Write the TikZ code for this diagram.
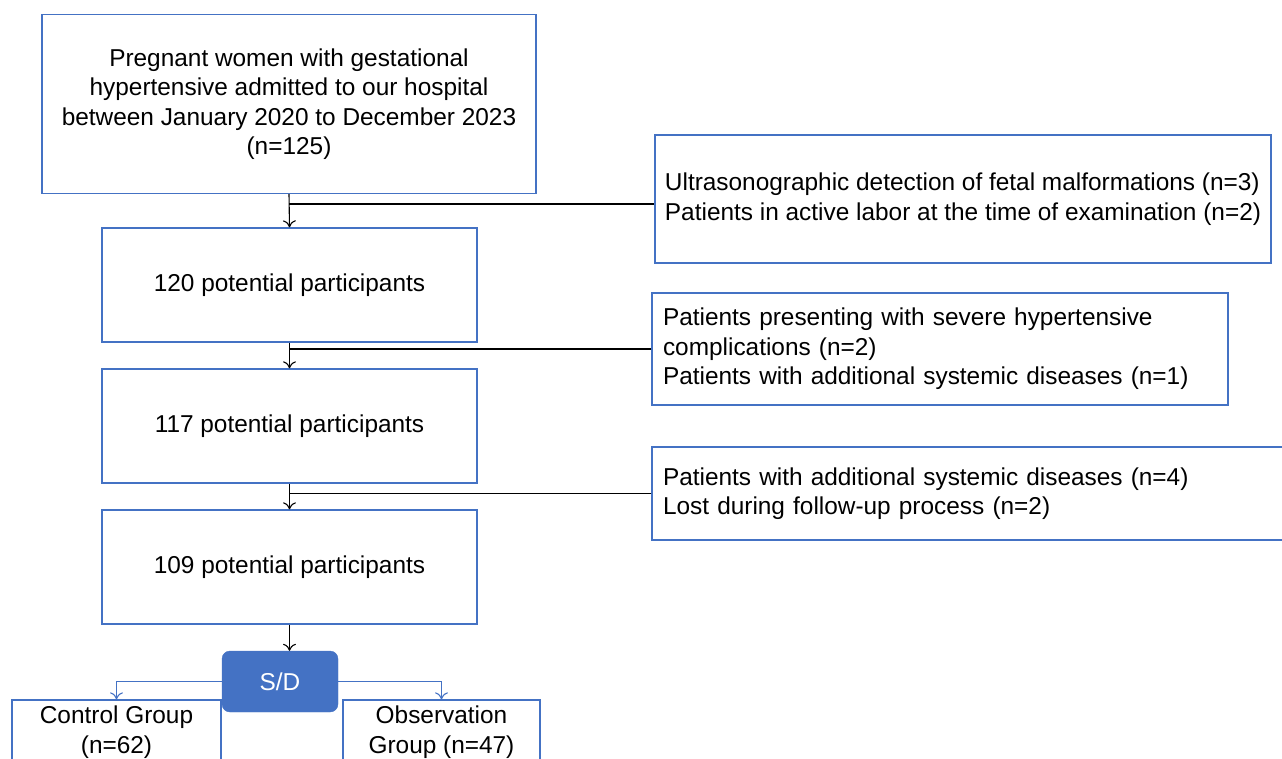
\documentclass[tikz,border=0pt]{standalone}
\usepackage{fontspec}
\setmainfont{Liberation Sans}
\usetikzlibrary{arrows.meta}
\definecolor{boxblue}{HTML}{4472C4}
\tikzset{
  txt/.style={font=\fontsize{24.4}{29.5}\selectfont},
  flowbox/.style={txt, draw=boxblue, line width=1.3pt, minimum width=375pt, minimum height=114pt, align=center},
  exclbox/.style={txt, draw=boxblue, line width=1.3pt, align=left, inner xsep=11pt},
  groupbox/.style={txt, draw=boxblue, line width=1.3pt, minimum height=64pt, align=center, inner sep=2pt},
  arr/.style={-{To[length=7pt,width=13pt]}, line width=1.1pt},
  bluearr/.style={-{To[length=7pt,width=13pt]}, draw=boxblue, line width=1.1pt},
}
\begin{document}
\begin{tikzpicture}[x=1pt,y=-1pt]
\useasboundingbox (0,0) rectangle (1282,759);
\clip (0,0) rectangle (1282,759);
% main column
\node[flowbox, minimum width=494pt, minimum height=179pt] (top) at (289,104)
  {Pregnant women with gestational\\hypertensive admitted to our hospital\\between January 2020 to December 2023\\(n=125)};
\node[flowbox] (p120) at (289.5,285) {120 potential participants};
\node[flowbox] (p117) at (289.5,426) {117 potential participants};
\node[flowbox] (p109) at (289.5,567) {109 potential participants};
% exclusions
\node[exclbox, inner xsep=2pt, minimum width=616pt, minimum height=128pt] (ex1) at (963,199)
  {Ultrasonographic detection of fetal malformations (n=3)\\Patients in active labor at the time of examination (n=2)};
\node[exclbox, text width=554pt, minimum height=112pt] (ex2) at (940,349)
  {Patients presenting with severe hypertensive\\complications (n=2)\\Patients with additional systemic diseases (n=1)};
\node[exclbox, text width=626pt, minimum height=93pt] (ex3) at (976,493.5)
  {Patients with additional systemic diseases (n=4)\\Lost during follow-up process (n=2)};
% groups
\node[txt, draw=boxblue, fill=boxblue, rounded corners=8pt, minimum width=116pt, minimum height=61pt, text=white] (sd) at (280,681.5) {S/D};
\node[groupbox, minimum width=209pt] (ctrl) at (116.5,732) {Control Group\\(n=62)};
\node[groupbox, minimum width=197pt] (obs) at (441.5,732) {Observation\\Group (n=47)};
% connectors
\coordinate (j1) at (289,204);
\draw[arr] (top.south) -- (p120.north);
\draw[line width=1.1pt] (j1) -- (j1 -| ex1.west);
\draw[arr] (p120.south) -- (p117.north);
\draw[line width=1.1pt] (ex2.west) -- (ex2.west -| p120.south);
\draw[arr] (p117.south) -- (p109.north);
\draw[line width=1.1pt] (ex3.west) -- (ex3.west -| p117.south);
\draw[arr] (p109.south) -- (p109.south |- sd.north);
\draw[bluearr] (sd.west) -| (ctrl.north);
\draw[bluearr] (sd.east) -| (obs.north);
\end{tikzpicture}
\end{document}
